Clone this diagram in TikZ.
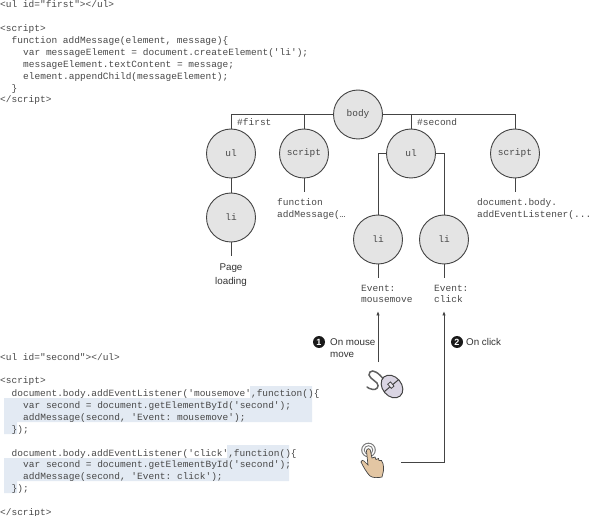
\documentclass[tikz,border=0pt]{standalone}
\usepackage{fontspec}
\setmainfont{Liberation Sans}
\setmonofont{Liberation Mono}
\newcommand{\mono}{\fontsize{9.5}{11.8}\selectfont\ttfamily}
\definecolor{linec}{HTML}{444444}
\definecolor{codec}{HTML}{484848}
\definecolor{hilite}{HTML}{E3EAF3}
\definecolor{nodefill}{HTML}{E4E4E4}
\definecolor{mousec}{HTML}{DAD5E3}
\definecolor{handc}{HTML}{E3C6A3}
\usetikzlibrary{arrows.meta}
\tikzset{
  dom/.style={circle,draw=linec,fill=nodefill,line width=0.9pt,minimum size=49pt,inner sep=0pt,font=\mono,text=codec},
  conn/.style={draw=linec,line width=0.9pt},
  code/.style={anchor=base west,inner sep=0pt,font=\mono,text=codec},
  lab/.style={anchor=base west,inner sep=0pt,font=\fontsize{9.8}{12}\selectfont,text=black!80},
  labc/.style={lab,anchor=base},
  num/.style={circle,fill=black!90,text=white,minimum size=12pt,inner sep=0pt,font=\bfseries\fontsize{9}{9}\selectfont},
  arr/.style={conn,-{Latex[length=4.5pt,width=3.5pt]}},
}
\begin{document}
\begin{tikzpicture}[x=1pt,y=-1pt]
\useasboundingbox (0,0) rectangle (590,516);
% highlights
\fill[hilite] (250,386) -- (312,386) -- (312,422) -- (17,422) -- (17,434) -- (4,434) -- (4,398) -- (250,398) -- cycle;
\fill[hilite] (227,445) -- (289,445) -- (289,481) -- (17,481) -- (17,493) -- (4,493) -- (4,458) -- (227,458) -- cycle;
% code, top
\node[code] (c1) at (0,8) {<ul id="first"></ul>};
\node[code] (c2) at (0,32) {<script>};
\node[code] (c3) at (11.5,44) {function addMessage(element, message)\{};
\node[code] (c4) at (23,56) {var messageElement = document.createElement('li');};
\node[code] (c5) at (23,68) {messageElement.textContent = message;};
\node[code] (c6) at (23,80) {element.appendChild(messageElement);};
\node[code] (c7) at (11.5,92) {\}};
\node[code] (c8) at (0,103) {</script>};
% code, bottom
\node[code] (d1) at (0,360) {<ul id="second"></ul>};
\node[code] (d2) at (0,384) {<script>};
\node[code] (d3) at (11.5,396) {document.body.addEventListener('mousemove',function()\{};
\node[code] (d4) at (23,408) {var second = document.getElementById('second');};
\node[code] (d5) at (23,420) {addMessage(second, 'Event: mousemove');};
\node[code] (d6) at (11.5,432) {\});};
\node[code] (d7) at (11.5,456) {document.body.addEventListener('click',function()\{};
\node[code] (d8) at (23,467.5) {var second = document.getElementById('second');};
\node[code] (d9) at (23,479) {addMessage(second, 'Event: click');};
\node[code] (d10) at (11.5,491) {\});};
\node[code] (d11) at (0,515) {</script>};
% tree nodes
\node[dom] (body) at (358,114.5) {body};
\node[dom] (ul1) at (231,153.5) {ul};
\node[dom] (li1) at (231,217.5) {li};
\node[dom] (sc1) at (304,153.5) {script};
\node[dom] (ul2) at (411,153.5) {ul};
\node[dom] (sc2) at (515,153.5) {script};
\node[dom] (li2) at (378,239.5) {li};
\node[dom] (li3) at (444,239.5) {li};
% stubs' free ends
\coordinate (e1) at (231,256);
\coordinate (e2) at (304,192);
\coordinate (e3) at (515,192);
\coordinate (e4) at (378,278);
\coordinate (e5) at (444,278);
% connectors
\draw[conn] (body.west) -| (ul1.north);
\draw[conn] (sc1.north) -- (sc1.north |- body.west);
\draw[conn] (body.east) -| (sc2.north);
\draw[conn] (ul2.north) -- (ul2.north |- body.east);
\draw[conn] (ul1) -- (li1);
\draw[conn] (ul2.west) -| (li2.north);
\draw[conn] (ul2.east) -| (li3.north);
\draw[conn] (li1) -- (e1);
\draw[conn] (sc1) -- (e2);
\draw[conn] (sc2) -- (e3);
\draw[conn] (li2) -- (e4);
\draw[conn] (li3) -- (e5);
% tree texts
\node[code] (t1) at (237,126) {\#first};
\node[code] (t2) at (417,126) {\#second};
\node[code] (t3) at (277,206) {function};
\node[code] (t4) at (277,218) {addMessage(…};
\node[code] (t5) at (477,206) {document.body.};
\node[code] (t6) at (477,218) {addEventListener(...};
\node[code] (t7) at (361,291) {Event:};
\node[code] (t8) at (361,303) {mousemove};
\node[code] (t9) at (434,291) {Event:};
\node[code] (t10) at (434,303) {click};
\node[labc] (p1) at (231,271) {Page};
\node[labc] (p2) at (231,284.5) {loading};
% callouts
\node[num] (n1) at (319,342) {1};
\node[lab] (l1) at (330,345) {On mouse};
\node[lab] (l2) at (330,358) {move};
\node[num] (n2) at (457,342) {2};
\node[lab] (l3) at (466,345) {On click};
% arrows
\coordinate (a1s) at (378,362);
\coordinate (a1e) at (378,311);
\coordinate (a2s) at (401,462);
\coordinate (a2e) at (444,311);
\draw[arr] (a1s) -- (a1e);
\draw[arr] (a2s) -| (a2e);
% mouse icon
\draw[linec!85,line width=1.5pt,line cap=round] (384,380) .. controls (379,373) and (373,369) .. (370,372) .. controls (366,376) and (374,380) .. (377,383) .. controls (380,387) and (376,390) .. (373,389.5) .. controls (370,389) and (368,388) .. (367,387);
\begin{scope}[shift={(392,386.5)},rotate=-50]
\fill[mousec,draw=linec,line width=1pt] (0,0) ellipse (12.5 and 9.5);
\draw[linec,line width=1pt] (-1,-9.5) -- (-1,9.5);
\fill[mousec!60!white,draw=linec,line width=0.8pt] (-4.5,-1.8) rectangle (1,1.8);
\end{scope}
% hand icon
\draw[linec!70,line width=1pt] (368.5,450) circle (6.8);
\draw[linec!70,line width=0.9pt] (368.5,450) circle (4.3);
\fill[handc,draw=linec,line width=0.7pt] (366.5,451) .. controls (366.5,448) and (370.5,448) .. (370.5,451) -- (372,458) -- (375,457) -- (376,459.5) -- (378.5,458.5) -- (379,460.5) -- (381.5,460.5) .. controls (384,464) and (384,470) .. (383,473) -- (382,477) .. controls (378,478) and (373,478) .. (370,476) .. controls (367,473) and (364,468) .. (361,462) .. controls (361,460) and (363,460) .. (364,461) -- (368,465) -- cycle;
\end{tikzpicture}
\end{document}
